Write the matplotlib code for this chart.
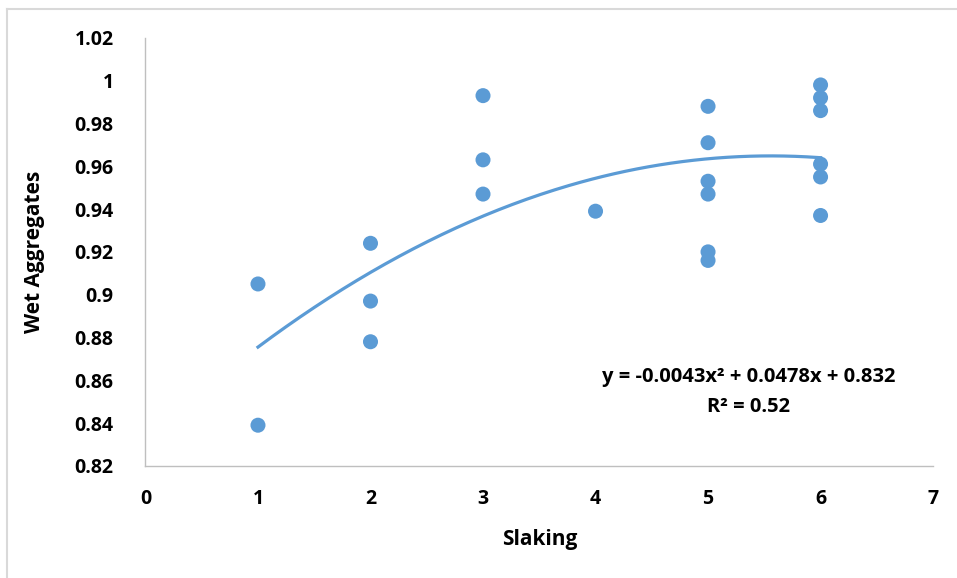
import numpy as np
import matplotlib.pyplot as plt
from matplotlib.lines import Line2D

# Slaking vs wet aggregates
slaking = [1, 1, 2, 2, 2, 3, 3, 3, 4,
           5, 5, 5, 5, 5, 5, 6, 6, 6, 6, 6, 6]
wet_agg = [0.905, 0.839, 0.924, 0.897, 0.878, 0.993, 0.963, 0.947, 0.939,
           0.988, 0.971, 0.953, 0.947, 0.920, 0.916,
           0.998, 0.992, 0.986, 0.961, 0.955, 0.937]

# polynomial trendline as printed on the chart (a, b, c)
trend_coefs = [-0.0043, 0.0478, 0.832]
r_squared = 0.52

x_ticks = [0, 1, 2, 3, 4, 5, 6, 7]
y_ticks = [0.82, 0.84, 0.86, 0.88, 0.9, 0.92, 0.94, 0.96, 0.98, 1.0, 1.02]
y_tick_labels = ['0.82', '0.84', '0.86', '0.88', '0.9', '0.92', '0.94',
                 '0.96', '0.98', '1', '1.02']

blue = '#5B9BD5'
plt.rcParams['font.family'] = ['Open Sans', 'DejaVu Sans']

fig = plt.figure(figsize=(9.57, 5.78), dpi=100)
ax = fig.add_axes([0.152, 0.194, 0.823, 0.7405])

ax.scatter(slaking, wet_agg, s=117, color=blue, edgecolors='none', zorder=3)

xs = np.linspace(min(slaking), max(slaking), 200)
ax.plot(xs, np.polyval(trend_coefs, xs), color=blue, linewidth=2.3, zorder=2)

ax.set_xlim(0, 7)
ax.set_ylim(0.82, 1.02)
ax.set_xticks(x_ticks)
ax.set_yticks(y_ticks)
ax.set_yticklabels(y_tick_labels)
ax.tick_params(length=0, labelsize=14, pad=17)
ax.tick_params(axis='y', pad=23)
for lab in ax.get_xticklabels() + ax.get_yticklabels():
    lab.set_fontweight('bold')

for side in ['top', 'right']:
    ax.spines[side].set_visible(False)
for side in ['left', 'bottom']:
    ax.spines[side].set_color('#BFBFBF')
    ax.spines[side].set_linewidth(1.0)

ax.set_xlabel('Slaking', fontsize=15, fontweight='bold', labelpad=14)
ax.set_ylabel('Wet Aggregates', fontsize=15, fontweight='bold', labelpad=21)

a, b, c = trend_coefs
ax.text(5.36, 0.8616, f'y = {a}x² + {b}x + {c}', fontsize=14.5,
        fontweight='bold', ha='center', va='center')
ax.text(5.36, 0.8476, f'R² = {r_squared}', fontsize=14.5,
        fontweight='bold', ha='center', va='center')

# light outer chart frame (left and top edges visible)
fig.add_artist(Line2D([7 / 957, 7 / 957], [0, 1 - 9 / 578], color='#D9D9D9', linewidth=1.5))
fig.add_artist(Line2D([7 / 957, 1], [1 - 9 / 578, 1 - 9 / 578], color='#D9D9D9', linewidth=1.5))

fig.savefig('out.png', dpi=100)
